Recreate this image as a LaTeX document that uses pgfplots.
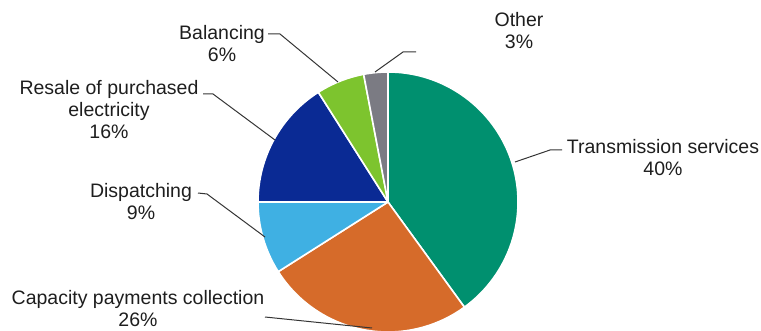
\documentclass[border=0pt]{standalone}
\usepackage{pgfplots}
\pgfplotsset{compat=1.18}
\usepackage{pgfplotstable}
\usepackage{fontspec}
\setmainfont{Liberation Sans}
\definecolor{cTrans}{RGB}{0,144,111}
\definecolor{cCap}{RGB}{214,107,42}
\definecolor{cDisp}{RGB}{63,176,227}
\definecolor{cRes}{RGB}{10,42,148}
\definecolor{cBal}{RGB}{125,196,46}
\definecolor{cOth}{RGB}{123,123,131}
\definecolor{cTxt}{RGB}{30,30,30}
\pgfplotstableread{
label value color
Transmission 40 cTrans
Capacity 26 cCap
Dispatching 9 cDisp
Resale 16 cRes
Balancing 6 cBal
Other 3 cOth
}\piedata
\begin{document}
\begin{tikzpicture}
\begin{axis}[width=761pt,height=330pt,scale only axis,
  xmin=0,xmax=761,ymin=0,ymax=330,hide axis,clip=true]
\def\cumul{0}
\pgfplotsforeachungrouped \i in {0,...,5}{%
  \pgfplotstablegetelem{\i}{value}\of\piedata \let\v\pgfplotsretval
  \pgfplotstablegetelem{\i}{color}\of\piedata \let\c\pgfplotsretval
  \pgfmathsetmacro\a{90-3.6*\cumul}%
  \pgfmathsetmacro\b{90-3.6*(\cumul+\v)}%
  \pgfmathsetmacro\cumul{\cumul+\v}%
  \edef\temp{\noexpand\fill[\c, draw=white, line width=1.6pt, line join=round] (axis cs:388,128) -- ++(\a:130pt) arc[start angle=\a, end angle=\b, radius=130pt] -- cycle;}%
  \temp
}
\begin{scope}[draw=cTxt!90, line width=1pt]
\draw (axis cs:375,258) -- (axis cs:403,278) -- (axis cs:416,278);
\draw (axis cs:268,296) -- (axis cs:280,296) -- (axis cs:338,248);
\draw (axis cs:203,236) -- (axis cs:213,236) -- (axis cs:275,190);
\draw (axis cs:198,137) -- (axis cs:207,136) -- (axis cs:265,93);
\draw (axis cs:265,13) -- (axis cs:372,2);
\draw (axis cs:515,168) -- (axis cs:550,180) -- (axis cs:562,180);
\end{scope}
\begin{scope}[every node/.style={align=center, text=cTxt, font=\fontsize{19.5}{22}\selectfont, inner sep=0pt}]
\node at (axis cs:519,299) {Other\\3\%};
\node at (axis cs:222,286.5) {Balancing\\6\%};
\node at (axis cs:109,220) {Resale of purchased\\electricity\\16\%};
\node at (axis cs:141,128) {Dispatching\\9\%};
\node at (axis cs:138,21) {Capacity payments collection\\26\%};
\node at (axis cs:663,172) {Transmission services\\40\%};
\end{scope}
\end{axis}
\pgfresetboundingbox
\path[use as bounding box] (current axis.south west) rectangle (current axis.north east);
\end{tikzpicture}
\end{document}
